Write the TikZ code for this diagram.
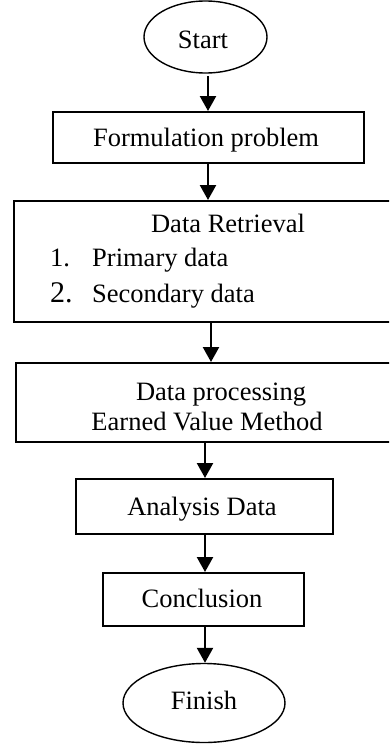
\documentclass[tikz,border=0pt]{standalone}
\usepackage{fontspec}
\setmainfont{Liberation Serif}
\usetikzlibrary{arrows.meta,shapes.geometric}
\begin{document}
\begin{tikzpicture}[x=1pt,y=-1pt,
  box/.style={draw, line width=1.6pt, rectangle, inner sep=0pt, anchor=north west},
  oval/.style={draw, line width=1.4pt, ellipse, inner sep=0pt},
  lbl/.style={font=\fontsize{26.5}{30}\selectfont, anchor=base, inner sep=0pt},
  arr/.style={line width=2.4pt, -{Triangle[width=16pt,length=15pt]}}]
\useasboundingbox (0,0) rectangle (389,744);
\clip (0,0) rectangle (389,744);
% shapes
\node[oval, minimum width=123pt, minimum height=72pt] (start) at (205.5,37) {};
\node[box, minimum width=311pt, minimum height=51pt] (form) at (52,111) {};
\node[box, minimum width=400pt, minimum height=121pt] (retr) at (13,200) {};
\node[box, minimum width=400pt, minimum height=79pt] (proc) at (15,362) {};
\node[box, minimum width=257pt, minimum height=55pt] (anal) at (75,478) {};
\node[box, minimum width=201pt, minimum height=53pt] (concl) at (102,572) {};
\node[oval, minimum width=162pt, minimum height=79pt] (finish) at (204,703) {};
% texts
\node[lbl] (tstart) at (203,48) {Start};
\node[lbl] (tform) at (206,146) {Formulation problem};
\node[lbl] (tretr) at (228,232) {Data Retrieval};
\node[lbl, anchor=base west] (n1) at (50,266) {1.};
\node[lbl, anchor=base west] (p1) at (92,266) {Primary data};
\node[lbl, anchor=base west, font=\fontsize{30}{34}\selectfont] (n2) at (50,302) {2.};
\node[lbl, anchor=base west] (p2) at (92,302) {Secondary data};
\node[lbl] (tproc1) at (221,400) {Data processing};
\node[lbl] (tproc2) at (207,430) {Earned Value Method};
\node[lbl] (tanal) at (202,515) {Analysis Data};
\node[lbl] (tconcl) at (202,607) {Conclusion};
\node[lbl] (tfin) at (204,709) {Finish};
% connectors
\coordinate (c1) at (208,76);
\coordinate (c2) at (208,163);
\coordinate (c3) at (211,321);
\coordinate (c4) at (205,442);
\coordinate (c5) at (205,534);
\coordinate (c6) at (205,627);
\draw[arr] (c1) -- (c1 |- form.north);
\draw[arr] (c2) -- (c2 |- retr.north);
\draw[arr] (c3) -- (c3 |- proc.north);
\draw[arr] (c4) -- (c4 |- anal.north);
\draw[arr] (c5) -- (c5 |- concl.north);
\draw[arr] (c6) -- (c6 |- finish.north);
\end{tikzpicture}
\end{document}
